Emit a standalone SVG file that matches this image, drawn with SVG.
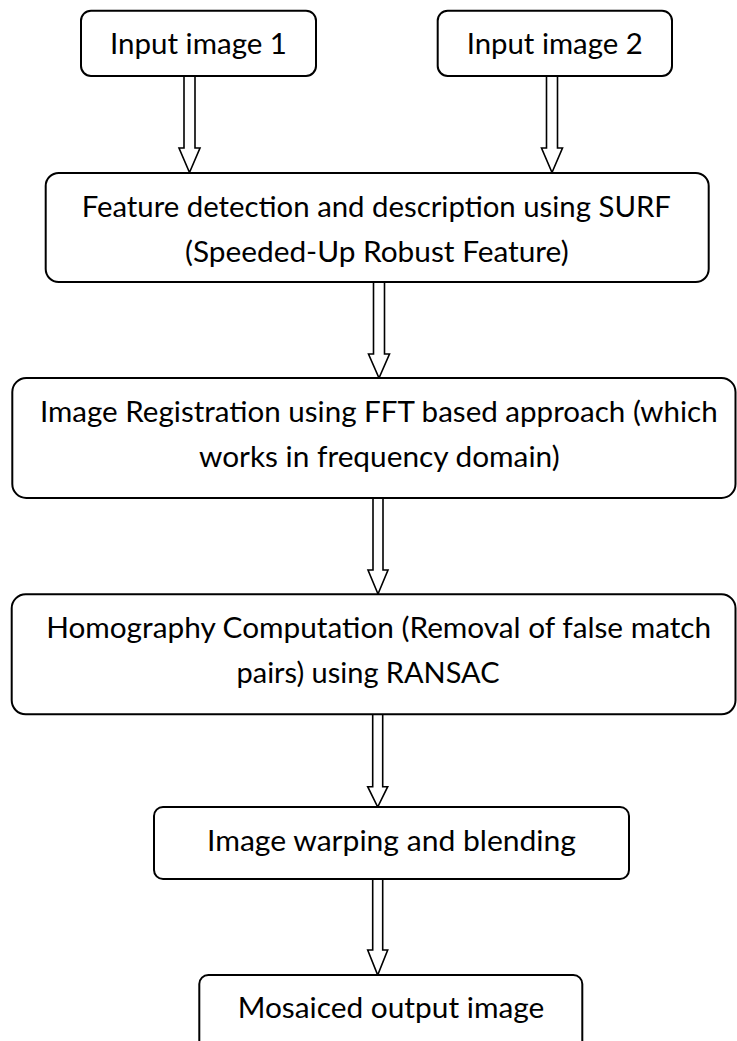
<svg xmlns="http://www.w3.org/2000/svg" width="737" height="1041" viewBox="0 0 737 1041">
  <style>
    .box { fill: #ffffff; stroke: #000000; stroke-width: 2; }
    .lbl { font-family: Lato, "Liberation Sans", "DejaVu Sans", sans-serif; font-size: 29px; fill: #000000; text-anchor: middle; }
    .arrow { fill: #ffffff; stroke: #000000; stroke-width: 1.6; stroke-linejoin: miter; }
  </style>
  <rect x="0" y="0" width="737" height="1041" fill="#ffffff"/>

  <!-- block arrows between the stages -->
  <g id="connectors">
    <path class="arrow" d="M184,76 V148 H179 L189.5,172.5 L200,148 H195 V76"/>
    <path class="arrow" d="M546.5,76 V148 H541.5 L552,172.5 L562.5,148 H557.5 V76"/>
    <path class="arrow" d="M373.5,282 V354 H368.5 L379,378 L389.5,354 H384.5 V282"/>
    <path class="arrow" d="M373,498 V570 H368 L378,594 L388,570 H383 V498"/>
    <path class="arrow" d="M372.7,714 V786.7 H367.7 L377.7,807 L387.7,786.7 H382.7 V714"/>
    <path class="arrow" d="M372.7,879 V950 H367.7 L377.7,975 L387.7,950 H382.7 V879"/>
  </g>

  <g id="input1">
    <rect class="box" x="81" y="10.7" width="235" height="65.3" rx="10"/>
    <text class="lbl" x="198.5" y="54" textLength="177" lengthAdjust="spacingAndGlyphs">Input image 1</text>
  </g>

  <g id="input2">
    <rect class="box" x="437.7" y="10.7" width="234.3" height="65.3" rx="10"/>
    <text class="lbl" x="554.7" y="54" textLength="176" lengthAdjust="spacingAndGlyphs">Input image 2</text>
  </g>

  <g id="surf">
    <rect class="box" x="45.7" y="173" width="663" height="109" rx="13"/>
    <text class="lbl" x="376.3" y="216.7" textLength="589.3" lengthAdjust="spacingAndGlyphs">Feature detection and description using SURF</text>
    <text class="lbl" x="376.8" y="261.7" textLength="383.7" lengthAdjust="spacingAndGlyphs">(Speeded-Up Robust Feature)</text>
  </g>

  <g id="registration">
    <rect class="box" x="12.3" y="378" width="723.2" height="120" rx="14"/>
    <text class="lbl" x="378.8" y="421.7" textLength="677.7" lengthAdjust="spacingAndGlyphs">Image Registration using FFT based approach (which</text>
    <text class="lbl" x="379.3" y="466.7" textLength="360.7" lengthAdjust="spacingAndGlyphs">works in frequency domain)</text>
  </g>

  <g id="homography">
    <rect class="box" x="11.7" y="594.3" width="723.8" height="120" rx="14"/>
    <text class="lbl" x="378.7" y="638.3" textLength="665" lengthAdjust="spacingAndGlyphs">Homography Computation (Removal of false match</text>
    <text class="lbl" x="368" y="683.3" textLength="263" lengthAdjust="spacingAndGlyphs">pairs) using RANSAC</text>
  </g>

  <g id="warping">
    <rect class="box" x="154" y="807" width="475" height="72" rx="9"/>
    <text class="lbl" x="391.5" y="850.7" textLength="369" lengthAdjust="spacingAndGlyphs">Image warping and blending</text>
  </g>

  <g id="output">
    <rect class="box" x="199.3" y="975" width="383" height="90" rx="9"/>
    <text class="lbl" x="391" y="1018" textLength="306.6" lengthAdjust="spacingAndGlyphs">Mosaiced output image</text>
  </g>
</svg>
